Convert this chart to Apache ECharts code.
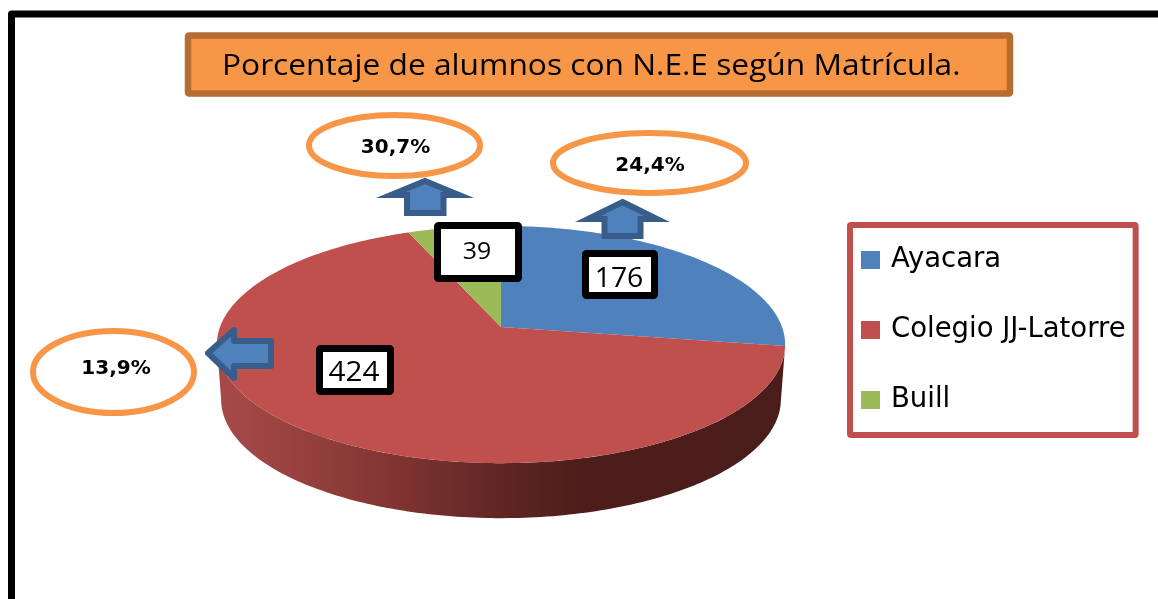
<!DOCTYPE html>
<html>
<head>
<meta charset="utf-8" />
<style>
	html, body { margin: 0; padding: 0; background: #fff; }
	#chart { width: 1158px; height: 599px; }
</style>
<script src="https://cdn.jsdelivr.net/npm/echarts@6/dist/echarts.min.js"></script>
</head>
<body>
<div id="chart"></div>
<script>
const titleText = 'Porcentaje de alumnos con N.E.E según Matrícula.'
const schools = ['Ayacara', 'Colegio JJ-Latorre', 'Buill']
const matricula = [176, 424, 39]
const percents = ['24,4%', '13,9%', '30,7%']

const colors = ['#4f81bd', '#c0504d', '#9bbb59']
const orange = '#f79646'
const fontBody = '"Open Sans", sans-serif'

// where the labels of each slice sit, in the same order as schools
const valueBoxes = [
	{ x: 582, y: 250, w: 76, h: 49, size: 27, scaleX: 1.05, dy: 5 },
	{ x: 316, y: 345, w: 78, h: 50, size: 27, scaleX: 1.1, dy: 3.5 },
	{ x: 434, y: 222, w: 88, h: 60, size: 23, scaleX: 1.08, dy: 0 },
]
const ovals = [
	{ x: 649.5, y: 163, rx: 96.5, ry: 30 },
	{ x: 113.5, y: 372, rx: 80.5, ry: 41 },
	{ x: 394.5, y: 145.5, rx: 85.5, ry: 30.5 },
]
const ovalTexts = [[650, 166], [116, 369], [395.5, 148]]

// the tilted disc: a circle seen in perspective, apex is the centre of the circle
const disc = { cx: 501, cy: 327, a: 281, b: 116, k: 0.148, depth: 55, shrink: 0.985 }

const project = (deg) => {
	const t = (deg * Math.PI) / 180
	const w = 1 + disc.k * Math.cos(t)
	return [disc.cx + (disc.a * Math.sin(t)) / w, disc.cy - (disc.b * Math.cos(t)) / w]
}

const total = matricula.reduce((a, b) => a + b, 0)
const starts = matricula.map((v, i) => (matricula.slice(0, i).reduce((a, b) => a + b, 0) / total) * 360)

// only this part of the rim faces the viewer
const rimFrom = (Math.acos(-disc.k) * 180) / Math.PI
const rimTo = 360 - rimFrom

const arc = (from, to) => {
	const pts = []
	const steps = Math.max(2, Math.ceil(to - from))
	for (let i = 0; i <= steps; i++) pts.push(project(from + ((to - from) * i) / steps))
	return pts
}

const wallGradient = {
	type: 'linear',
	x: 0,
	y: 0,
	x2: 1,
	y2: 0,
	colorStops: [
		{ offset: 0, color: '#a64a48' },
		{ offset: 0.12, color: '#9a4341' },
		{ offset: 0.3, color: '#823533' },
		{ offset: 0.5, color: '#5f2624' },
		{ offset: 0.65, color: '#4c1d1a' },
		{ offset: 1, color: '#4b1d1a' },
	],
}

const renderSlice = (index) => (params, api) => {
	const from = starts[index]
	const to = from + (api.value(0) / total) * 360
	const children = []

	const wallFrom = Math.max(from, rimFrom)
	const wallTo = Math.min(to, rimTo)
	if (wallTo - wallFrom > 1) {
		const top = arc(wallFrom, wallTo)
		const bottom = top
			.map((p) => [disc.cx + (p[0] - disc.cx) * disc.shrink, p[1] + disc.depth])
			.reverse()
		children.push({
			type: 'polygon',
			shape: { points: top.concat(bottom) },
			style: { fill: wallGradient },
		})
	}

	children.push({
		type: 'polygon',
		shape: { points: [[disc.cx, disc.cy]].concat(arc(from, to)) },
		style: { fill: colors[index] },
	})

	const box = valueBoxes[index]
	children.push({
		type: 'rect',
		z2: 20,
		shape: { x: box.x + 3.5, y: box.y + 3.5, width: box.w - 7, height: box.h - 7, r: 1 },
		style: { fill: '#fff', stroke: '#000', lineWidth: 7 },
	})
	children.push({
		type: 'text',
		z2: 21,
		x: box.x + box.w / 2 - 1,
		y: box.y + box.h / 2 + box.dy,
		scaleX: box.scaleX,
		style: {
			text: String(api.value(0)),
			align: 'center',
			verticalAlign: 'middle',
			fontFamily: fontBody,
			fontSize: box.size,
			fill: '#000',
		},
	})
	return { type: 'group', children }
}

const arrow = (points, rounded) => ({
	type: 'polygon',
	shape: { points },
	style: {
		fill: '#4f81bd',
		stroke: '#385d8a',
		lineWidth: 6,
		lineJoin: rounded ? 'round' : 'miter',
		miterLimit: 10,
	},
})

const graphics = [
	{
		type: 'polyline',
		shape: { points: [[11.5, 599], [11.5, 14], [1158, 14]] },
		style: { fill: 'none', stroke: '#000', lineWidth: 7, lineJoin: 'round' },
	},
	{
		type: 'rect',
		shape: { x: 188, y: 35.5, width: 822, height: 58, r: 1 },
		style: { fill: orange, stroke: '#b66d31', lineWidth: 6.5 },
	},
	{
		type: 'text',
		x: 222,
		y: 66,
		scaleX: 1.057,
		style: {
			text: titleText,
			align: 'left',
			verticalAlign: 'middle',
			fontFamily: fontBody,
			fontSize: 30,
			fill: '#000',
		},
	},
]

ovals.forEach((o, i) => {
	graphics.push({
		type: 'ellipse',
		shape: { cx: o.x, cy: o.y, rx: o.rx, ry: o.ry },
		style: { fill: '#fff', stroke: orange, lineWidth: 6 },
	})
	graphics.push({
		type: 'text',
		x: ovalTexts[i][0],
		y: ovalTexts[i][1],
		style: {
			text: percents[i],
			align: 'center',
			verticalAlign: 'middle',
			fontFamily: '"DejaVu Sans", sans-serif',
			fontWeight: 'bold',
			fontSize: 20,
			fill: '#000',
		},
	})
})

graphics.push(arrow([[425, 181], [459, 195], [443.5, 195], [443.5, 213], [407, 213], [407, 195], [391, 195]]))
graphics.push(arrow([[622.5, 202], [657, 219], [640.5, 219], [640.5, 236], [604.5, 236], [604.5, 219], [588, 219]]))
graphics.push(arrow([[208, 353], [234, 330], [234, 341], [271, 341], [271, 366], [234, 366], [234, 378]], true))

const chart = echarts.init(document.getElementById('chart'), null, { renderer: 'canvas' })

chart.setOption({
	animation: false,
	backgroundColor: '#fff',
	legend: {
		orient: 'vertical',
		left: 850,
		top: 225,
		data: schools,
		icon: 'rect',
		itemWidth: 19,
		itemHeight: 18,
		itemGap: 42,
		padding: [21, 10, 21, 11],
		borderColor: '#c0504d',
		borderWidth: 6,
		borderRadius: 1,
		textStyle: { color: '#000', fontFamily: '"DejaVu Sans", sans-serif', fontSize: 27.5, padding: [0, 0, 0, 6] },
	},
	graphic: { elements: graphics.map((g) => ({ ...g, z: 5 })) },
	series: schools.map((name, i) => ({
		name,
		type: 'custom',
		coordinateSystem: 'none',
		z: 2,
		itemStyle: { color: colors[i] },
		renderItem: renderSlice(i),
		data: [[matricula[i]]],
	})),
})

window.addEventListener('resize', () => chart.resize())
</script>
</body>
</html>
